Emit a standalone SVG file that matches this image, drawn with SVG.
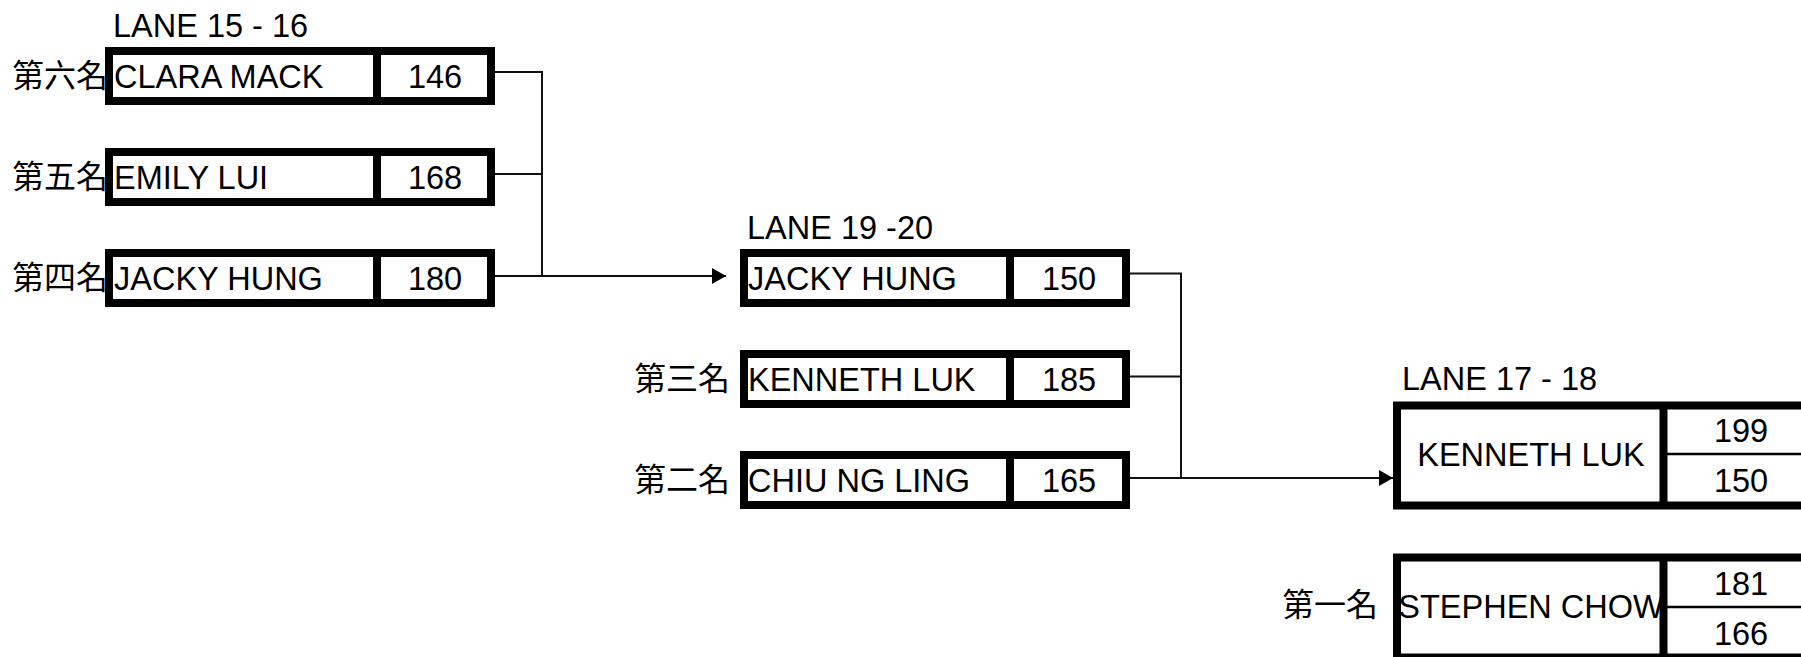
<svg xmlns="http://www.w3.org/2000/svg" width="1801" height="657" viewBox="0 0 1801 657">
<style>
.box{fill:#fff;stroke:#000;stroke-width:8}
.dv{stroke:#000;stroke-width:8}
.mid{stroke:#000;stroke-width:2.5}
.t{font-family:"Liberation Sans",Arial,sans-serif;font-size:32.5px;fill:#000}
.c{text-anchor:middle}
.cjk{font-family:"Noto Sans CJK TC","Noto Sans CJK SC",sans-serif;font-size:32px;fill:#000}
.conn{stroke:#111;stroke-width:2;fill:none}
</style>
<defs>
<marker id="arr" markerUnits="userSpaceOnUse" markerWidth="14" markerHeight="16" refX="14" refY="8" orient="auto">
<path d="M0,0 L14,8 L0,16 z" fill="#000"/>
</marker>
</defs>
<g id="connectors">
<path class="conn" d="M495,72 H542 V276"/>
<path class="conn" d="M495,174 H542"/>
<path class="conn" d="M495,276 H726" marker-end="url(#arr)"/>
<path class="conn" d="M1130,273.5 H1181 V478"/>
<path class="conn" d="M1130,376.5 H1181"/>
<path class="conn" d="M1130,478 H1393" marker-end="url(#arr)"/>
</g>
<g id="lane-15-16"><text class="t" x="113" y="37">LANE 15 - 16</text></g>
<g id="lane-19-20"><text class="t" x="747" y="239">LANE 19 -20</text></g>
<g id="lane-17-18"><text class="t" x="1402" y="390">LANE 17 - 18</text></g>
<g id="r6">
<text class="cjk" x="12" y="87">第六名</text>
<rect class="box" x="109" y="51" width="382" height="50"/>
<line class="dv" x1="377" y1="51" x2="377" y2="101"/>
<text class="t" x="114" y="87.5">CLARA MACK</text>
<text class="t c" x="435" y="87.5">146</text>
</g>
<g id="r5">
<text class="cjk" x="12" y="188">第五名</text>
<rect class="box" x="109" y="152" width="382" height="50"/>
<line class="dv" x1="377" y1="152" x2="377" y2="202"/>
<text class="t" x="114" y="188.5">EMILY LUI</text>
<text class="t c" x="435" y="188.5">168</text>
</g>
<g id="r4">
<text class="cjk" x="12" y="289">第四名</text>
<rect class="box" x="109" y="253" width="382" height="50"/>
<line class="dv" x1="377" y1="253" x2="377" y2="303"/>
<text class="t" x="114" y="289.5">JACKY HUNG</text>
<text class="t c" x="435" y="289.5">180</text>
</g>
<g id="s1">
<rect class="box" x="744" y="253" width="382" height="50"/>
<line class="dv" x1="1010" y1="253" x2="1010" y2="303"/>
<text class="t" x="748" y="289.5">JACKY HUNG</text>
<text class="t c" x="1069" y="289.5">150</text>
</g>
<g id="r3">
<text class="cjk" x="634" y="390">第三名</text>
<rect class="box" x="744" y="354" width="382" height="50"/>
<line class="dv" x1="1010" y1="354" x2="1010" y2="404"/>
<text class="t" x="748" y="391">KENNETH LUK</text>
<text class="t c" x="1069" y="391">185</text>
</g>
<g id="r2">
<text class="cjk" x="634" y="491">第二名</text>
<rect class="box" x="744" y="455" width="382" height="50"/>
<line class="dv" x1="1010" y1="455" x2="1010" y2="505"/>
<text class="t" x="748" y="492">CHIU NG LING</text>
<text class="t c" x="1069" y="492">165</text>
</g>
<g id="f1">
<rect class="box" x="1397" y="405.5" width="420" height="100"/>
<line class="dv" x1="1663.5" y1="405.5" x2="1663.5" y2="505.5"/>
<line class="mid" x1="1667" y1="454" x2="1817" y2="454"/>
<text class="t c" x="1531" y="466">KENNETH LUK</text>
<text class="t c" x="1741" y="442">199</text>
<text class="t c" x="1741" y="492">150</text>
</g>
<g id="r1">
<text class="cjk" x="1282" y="616">第一名</text>
<rect class="box" x="1397" y="557.5" width="420" height="100"/>
<line class="dv" x1="1663.5" y1="557.5" x2="1663.5" y2="657.5"/>
<line class="mid" x1="1667" y1="607" x2="1817" y2="607"/>
<text class="t c" x="1531" y="618">STEPHEN CHOW</text>
<text class="t c" x="1741" y="595">181</text>
<text class="t c" x="1741" y="645">166</text>
</g>
</svg>
